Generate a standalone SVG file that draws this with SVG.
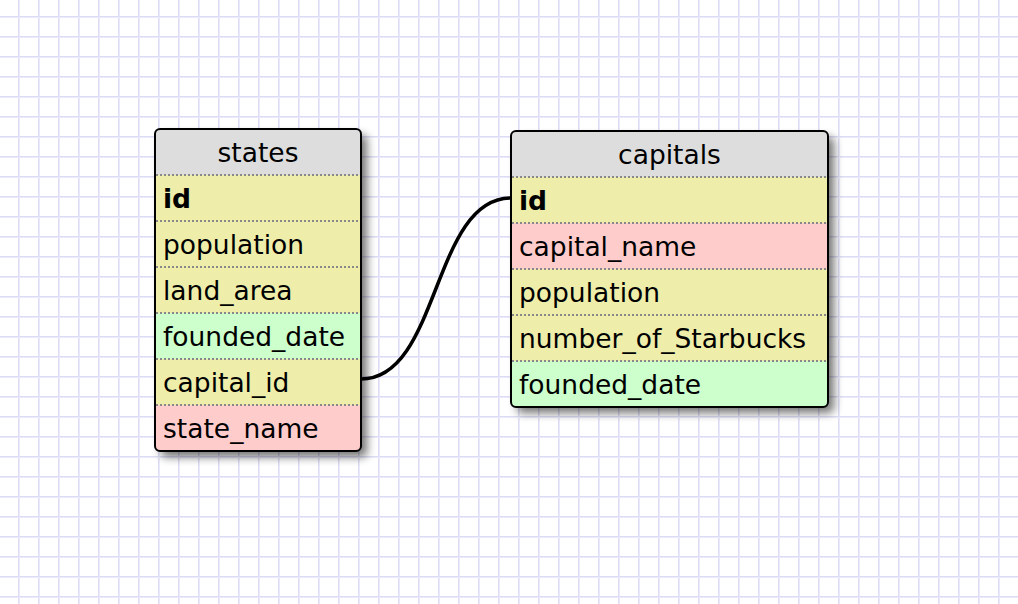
<svg xmlns="http://www.w3.org/2000/svg" width="1018" height="604" viewBox="0 0 1018 604">
<style>
.hdr{fill:#dddddd}
.y{fill:#eeeeaa}
.p{fill:#ffcccc}
.g{fill:#ccffcc}
.sep{stroke:#888888;stroke-width:2;stroke-dasharray:2,2}
.box{fill:none;stroke:#000;stroke-width:2}
.t{font-family:"DejaVu Sans",Verdana,sans-serif;font-size:26.5px;fill:#000}
.b{font-weight:bold}
.h{text-anchor:middle}
.conn{fill:none;stroke:#000;stroke-width:3.5}
</style>
<defs>
<pattern id="grid" patternUnits="userSpaceOnUse" x="0" y="0" width="20" height="20">
<rect x="18" y="0" width="1" height="20" fill="#dcdcf4"/>
<rect x="19" y="0" width="1" height="20" fill="#eaeafa"/>
<rect x="0" y="16" width="20" height="1" fill="#dcdcf4"/>
<rect x="0" y="17" width="20" height="1" fill="#eaeafa"/>
</pattern>
<filter id="sh" x="-20%" y="-20%" width="150%" height="150%">
<feGaussianBlur in="SourceAlpha" stdDeviation="5"/>
<feOffset dx="6" dy="6" result="b"/>
<feComponentTransfer><feFuncA type="linear" slope="0.55"/></feComponentTransfer>
<feMerge><feMergeNode/><feMergeNode in="SourceGraphic"/></feMerge>
</filter>
<clipPath id="c1"><rect x="155" y="129" width="206" height="322" rx="5"/></clipPath>
<clipPath id="c2"><rect x="511" y="131" width="317" height="276" rx="5"/></clipPath>
</defs>
<rect x="0" y="0" width="1018" height="604" fill="#ffffff"/>
<rect x="0" y="0" width="1018" height="604" fill="url(#grid)"/>
<g id="connectors">
<path class="conn" d="M361,379 C440,379 432,198 511,198"/>
</g>
<g id="states">
<rect x="155" y="129" width="206" height="322" rx="5" fill="#fff" filter="url(#sh)"/>
<g clip-path="url(#c1)">
<rect class="hdr" x="155" y="129" width="206" height="46"/>
<rect class="y" x="155" y="175" width="206" height="46"/>
<rect class="y" x="155" y="221" width="206" height="46"/>
<rect class="y" x="155" y="267" width="206" height="46"/>
<rect class="g" x="155" y="313" width="206" height="46"/>
<rect class="y" x="155" y="359" width="206" height="46"/>
<rect class="p" x="155" y="405" width="206" height="46"/>
</g>
<line class="sep" x1="156" y1="175" x2="360" y2="175"/>
<line class="sep" x1="156" y1="221" x2="360" y2="221"/>
<line class="sep" x1="156" y1="267" x2="360" y2="267"/>
<line class="sep" x1="156" y1="313" x2="360" y2="313"/>
<line class="sep" x1="156" y1="359" x2="360" y2="359"/>
<line class="sep" x1="156" y1="405" x2="360" y2="405"/>
<rect class="box" x="155" y="129" width="206" height="322" rx="5"/>
<text class="t h" x="258" y="162">states</text>
<text class="t b" x="163" y="208">id</text>
<text class="t" x="163" y="254">population</text>
<text class="t" x="163" y="300">land_area</text>
<text class="t" x="163" y="346">founded_date</text>
<text class="t" x="163" y="392">capital_id</text>
<text class="t" x="163" y="438">state_name</text>
</g>
<g id="capitals">
<rect x="511" y="131" width="317" height="276" rx="5" fill="#fff" filter="url(#sh)"/>
<g clip-path="url(#c2)">
<rect class="hdr" x="511" y="131" width="317" height="46"/>
<rect class="y" x="511" y="177" width="317" height="46"/>
<rect class="p" x="511" y="223" width="317" height="46"/>
<rect class="y" x="511" y="269" width="317" height="46"/>
<rect class="y" x="511" y="315" width="317" height="46"/>
<rect class="g" x="511" y="361" width="317" height="46"/>
</g>
<line class="sep" x1="512" y1="177" x2="827" y2="177"/>
<line class="sep" x1="512" y1="223" x2="827" y2="223"/>
<line class="sep" x1="512" y1="269" x2="827" y2="269"/>
<line class="sep" x1="512" y1="315" x2="827" y2="315"/>
<line class="sep" x1="512" y1="361" x2="827" y2="361"/>
<rect class="box" x="511" y="131" width="317" height="276" rx="5"/>
<text class="t h" x="669.5" y="164">capitals</text>
<text class="t b" x="519" y="210">id</text>
<text class="t" x="519" y="256">capital_name</text>
<text class="t" x="519" y="302">population</text>
<text class="t" x="519" y="348">number_of_Starbucks</text>
<text class="t" x="519" y="394">founded_date</text>
</g>
</svg>
